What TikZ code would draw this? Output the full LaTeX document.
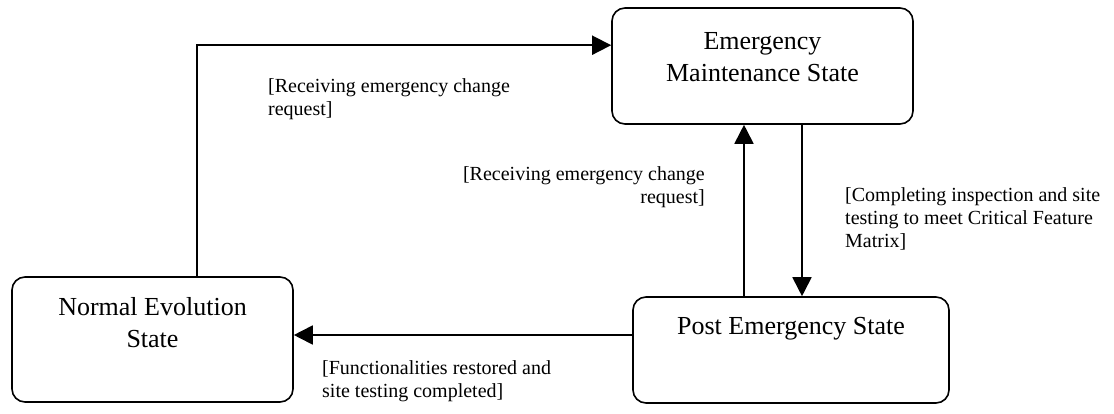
\documentclass[tikz,border=0pt]{standalone}
\usepackage{fontspec}
\setmainfont{Liberation Serif}
\usetikzlibrary{arrows.meta,calc}
\begin{document}
\begin{tikzpicture}[x=1pt,y=-1pt,
  statebox/.style={draw,line width=1.6pt,rounded corners=13pt,inner sep=0pt},
  statetext/.style={inner sep=0pt,align=center,font=\fontsize{26}{31.5}\selectfont,anchor=base},
  guard/.style={inner sep=0pt,font=\fontsize{20}{23}\selectfont},
  conn/.style={line width=1.8pt,-{Triangle[length=19pt,width=19pt]}}]
\useasboundingbox (0,0) rectangle (1114,413);
% boxes
\node[statebox,minimum width=301pt,minimum height=116pt] (em) at (762.5,66) {};
\node[statebox,minimum width=281pt,minimum height=125pt] (ne) at (152.5,339.5) {};
\node[statebox,minimum width=316pt,minimum height=106pt] (pe) at (791,350) {};
% box texts (base = last line)
\node[statetext] (emt) at ([yshift=-74pt]em.north) {Emergency\\Maintenance State};
\node[statetext] (net) at ([yshift=-71pt]ne.north) {Normal Evolution\\State};
\node[statetext] (pet) at ([yshift=-38pt]pe.north) {Post Emergency State};
% connectors
\draw[conn] ([xshift=186pt]ne.north west) |- ([yshift=-38pt]em.north west);
\draw[conn] ([xshift=-47pt]pe.north) -- ([xshift=-47pt]pe.north |- em.south);
\draw[conn] ([xshift=11pt]pe.north |- em.south) -- ([xshift=11pt]pe.north);
\draw[conn] ([yshift=15pt]pe.west) -- ([yshift=15pt]pe.west -| ne.east);
% guards (base = last line)
\node[guard,anchor=base west,align=left] (g1) at (268,115) {[Receiving emergency change\\request]};
\node[guard,anchor=base east,align=right] (g2) at (705,203) {[Receiving emergency change\\request]};
\node[guard,anchor=base west,align=left] (g3) at (845,247) {[Completing inspection and site\\testing to meet Critical Feature\\Matrix]};
\node[guard,anchor=base west,align=left] (g4) at (322,397) {[Functionalities restored and\\site testing completed]};
\end{tikzpicture}
\end{document}
